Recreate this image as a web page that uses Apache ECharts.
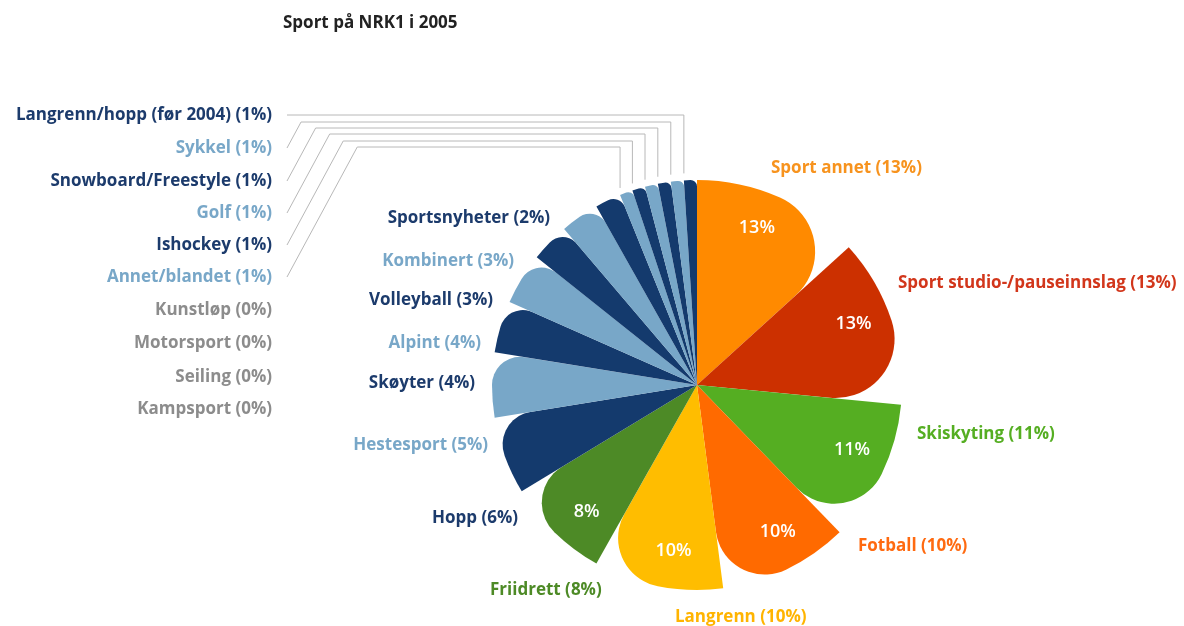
<!DOCTYPE html>
<html><head><meta charset="utf-8">
<script src="https://cdn.jsdelivr.net/npm/echarts@6/dist/echarts.min.js"></script>
<style>html,body{margin:0;padding:0;background:#fff}#c{width:1184px;height:626px}</style>
</head><body><div id="c"></div>
<script>
const chartTitle = 'Sport på NRK1 i 2005';
const categories = ['Sport annet','Sport studio-/pauseinnslag','Skiskyting','Fotball','Langrenn','Friidrett','Hopp','Hestesport','Skøyter','Alpint','Volleyball','Kombinert','Sportsnyheter','Annet/blandet','Ishockey','Golf','Snowboard/Freestyle','Sykkel','Langrenn/hopp (før 2004)','Kunstløp','Motorsport','Seiling','Kampsport'];
const values = [13,13,11,10,10,8,6,5,4,4,3,3,2,1,1,1,1,1,1,0,0,0,0];

// styles
const NAVY = '#143a6d', LIGHT = '#78a7c8';
const sliceColors = ['#ff8a00','#cc3000','#55ae22','#ff6a00','#ffbd00','#4d8a26',NAVY,LIGHT,NAVY,LIGHT,NAVY,LIGHT,NAVY,LIGHT,NAVY,LIGHT,NAVY,LIGHT,NAVY,'#999','#999','#999','#999'];
const labelColors = ['#f7931e','#d2361b','#55ae22','#ff6a10','#ffb400','#4d8a26','#1c3b6c','#78a7c8','#1c3b6c','#78a7c8','#1c3b6c','#78a7c8','#1c3b6c','#78a7c8','#1c3b6c','#78a7c8','#1c3b6c','#78a7c8','#1c3b6c','#8c8c8c','#8c8c8c','#8c8c8c','#8c8c8c'];
// label anchor positions [x, y, align]
const labelPos = [[771,168,'left'],[898,283,'left'],[917,434,'left'],[858,546,'left'],[675,617,'left'],[490,590,'left'],
  [518,518,'right'],[488,445,'right'],[475,383,'right'],[481,343,'right'],[493,300,'right'],[514,261,'right'],[550,218,'right'],
  [272,277,'right'],[272,245,'right'],[272,213,'right'],[272,181,'right'],[272,148,'right'],[272,115,'right'],
  [272,310,'right'],[272,343,'right'],[272,377,'right'],[272,409,'right']];
// leader line horizontal levels (only for far-left labelled slices)
const leaderLevel = {13:147,14:141,15:134,16:128,17:122,18:115};

const CX = 697, CY = 385, R = 205;
const total = values.reduce((a,b)=>a+b,0);
function startDeg(i){ let s=0; for(let k=0;k<i;k++) s+=values[k]; return s/total*360; }
const FONT = 'Open Sans';

const chart = echarts.init(document.getElementById('c'));
chart.setOption({
  animation:false,
  backgroundColor:'#fff',
  title:{text:chartTitle,left:278,top:10,textStyle:{fontFamily:FONT,fontSize:17,fontWeight:'bold',color:'#222'}},
  series:[{
    type:'pie', center:[CX,CY], radius:R, startAngle:90, clockwise:true,
    avoidLabelOverlap:false, silent:true,
    label:{show:true, position:'outside', formatter:'{b} ({c}%)', fontFamily:FONT, fontSize:17, fontWeight:'bold'},
    labelLine:{show:false, lineStyle:{color:'#b8b8b8', width:1}},
    data: categories.map((n,i)=>({
      name:n, value:values[i],
      itemStyle:{color:sliceColors[i], borderRadius: values[i]>0 ? [0,0,0,200] : 0},
      label:{color:labelColors[i]},
      labelLine:{show: leaderLevel[i]!==undefined}
    })),
    labelLayout:function(p){
      const i=p.dataIndex, pos=labelPos[i];
      const out={x:pos[0], y:pos[1], align:pos[2], verticalAlign:'middle'};
      if(leaderLevel[i]!==undefined){
        const a=startDeg(i)*Math.PI/180;
        const tx=CX+R*Math.sin(a), ty=CY-R*Math.cos(a)-7;
        const lv=leaderLevel[i], x0=pos[0]+15, y0=pos[1];
        const dx=x0+(y0-lv)/1.85;
        out.labelLinePoints=[[x0,y0],[dx,lv],[tx,lv],[tx,ty]];
      }
      return out;
    }
  },{
    type:'pie', center:[CX,CY], radius:R, startAngle:90, clockwise:true,
    avoidLabelOverlap:false, silent:true, z:5,
    itemStyle:{color:'rgba(0,0,0,0)'},
    label:{show:true, position:'inside', formatter:'{c}%', color:'#fff', fontFamily:FONT, fontSize:18, fontWeight:600},
    labelLine:{show:false},
    data: categories.map((n,i)=>({name:n, value:values[i], label:{show:values[i]>=8}})),
    labelLayout:function(p){
      const i=p.dataIndex;
      const a=(startDeg(i)+values[i]/total*180-3)*Math.PI/180;
      return {x:CX+168*Math.sin(a), y:CY-168*Math.cos(a), align:'center', verticalAlign:'middle'};
    }
  }]
});
</script></body></html>
